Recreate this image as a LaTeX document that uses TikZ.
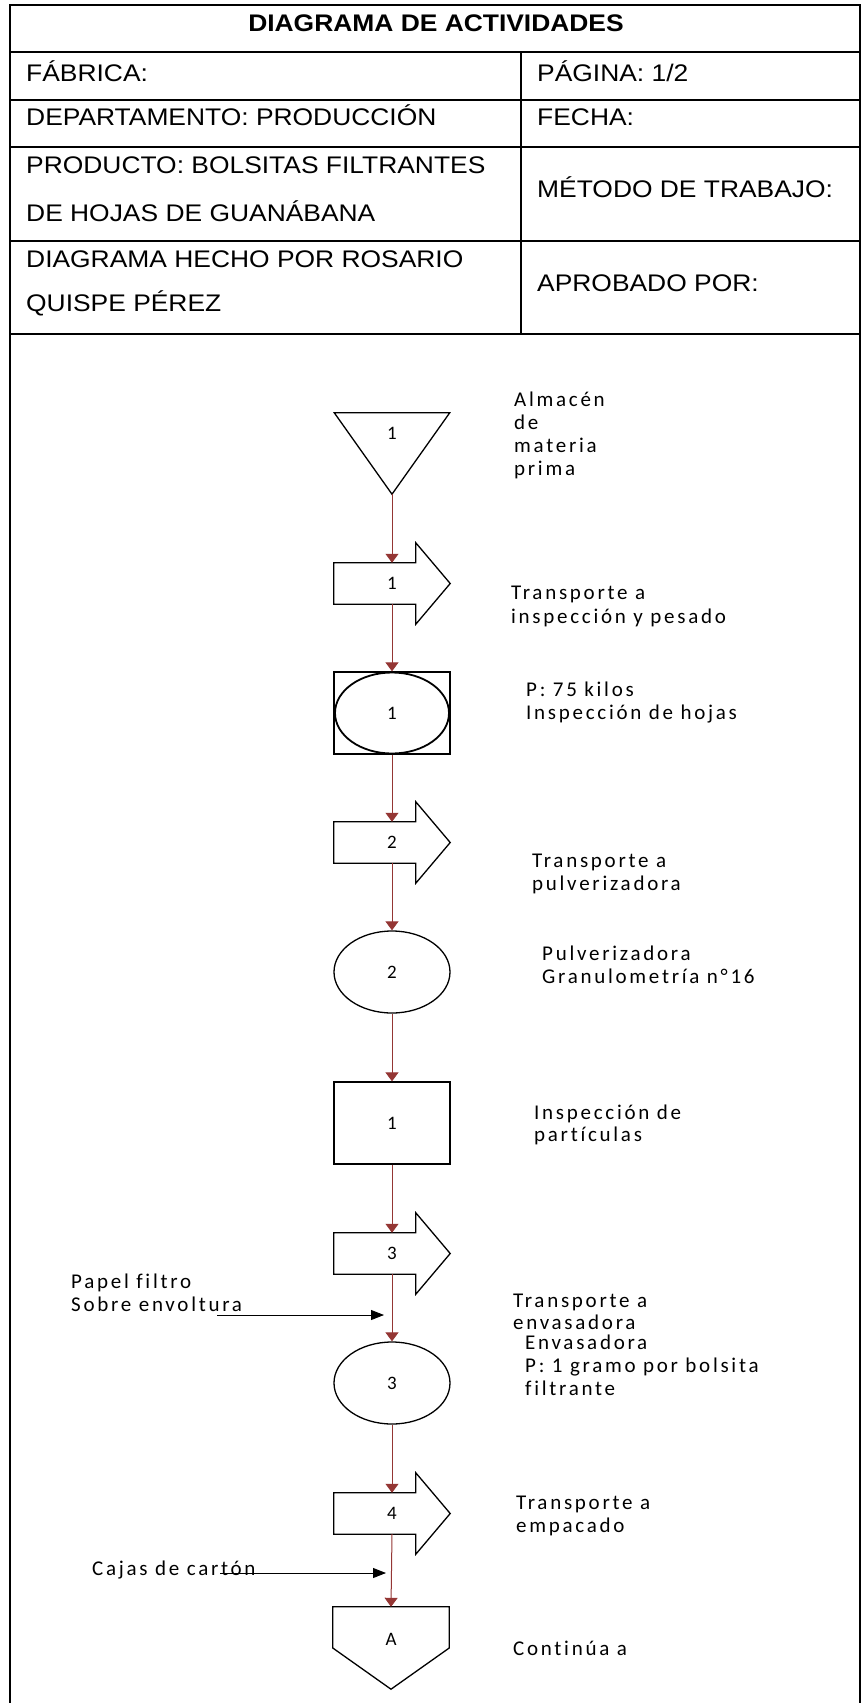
\documentclass[tikz,border=0pt]{standalone}
\usepackage{fontspec}
\setmainfont{Liberation Sans}
\newfontfamily\tabfont[FakeStretch=1.1]{Liberation Sans}
\newfontfamily\calfont[LetterSpace=13,Ligatures=NoCommon]{Carlito}
\newfontfamily\numfont{Carlito}
\usetikzlibrary{arrows.meta,calc,shapes.geometric}
\definecolor{flowred}{RGB}{148,54,52}
\newcommand\transportoutline[1]{\draw[shp] (#1.north west) -- ++(82,0) -- ++(0,-20) -- (#1.east) -- ($(#1.south west)+(82,20)$) -- ++(0,-20) -- (#1.south west) -- cycle;}
\begin{document}
\begin{tikzpicture}[x=1pt,y=-1pt,
  tabline/.style={line width=2pt,black},
  tabtxt/.style={anchor=base west,inner sep=0pt,font=\tabfont\fontsize{24}{28}\selectfont},
  lbl/.style={anchor=base west,inner sep=0pt,font=\calfont\fontsize{21}{23}\selectfont},
  shp/.style={draw=black,line width=1.3pt,line join=miter},
  num/.style={inner sep=0pt,font=\numfont\fontsize{19}{21}\selectfont},
  bx/.style={num,minimum width=116pt,minimum height=82pt},
  tr/.style={num,minimum width=116pt,minimum height=41pt},
  flow/.style={draw=flowred,line width=1pt,-{Triangle[width=13pt,length=9pt]}},
  feed/.style={draw=black,line width=0.9pt,-{Triangle[width=10pt,length=13pt]}}
]
\useasboundingbox (0,0) rectangle (861,1703);

% ---- header table ----
\draw[tabline,line join=miter] (10,1703) -- (10,5) -- (860,5) -- (860,1703);
\foreach \yy in {52,99.5,147,241,334} {\draw[tabline] (10,\yy) -- (860,\yy);}
\draw[tabline] (521,52) -- (521,334);

\node[tabtxt,anchor=base,font=\tabfont\bfseries\fontsize{24}{28}\selectfont] (title) at (436,31) {DIAGRAMA DE ACTIVIDADES};
\node[tabtxt] (fab) at (26,81) {FÁBRICA:};
\node[tabtxt] (pag) at (537,81) {PÁGINA: 1/2};
\node[tabtxt] (dep) at (26,125) {DEPARTAMENTO: PRODUCCIÓN};
\node[tabtxt] (fec) at (537,125) {FECHA:};
\node[tabtxt] (prod1) at (26,173.5) {PRODUCTO: BOLSITAS FILTRANTES};
\node[tabtxt] (prod2) at (26,221) {DE HOJAS DE GUANÁBANA};
\node[tabtxt] (met) at (537,197) {MÉTODO DE TRABAJO:};
\node[tabtxt] (hec1) at (26,267) {DIAGRAMA HECHO POR ROSARIO};
\node[tabtxt] (hec2) at (26,311) {QUISPE PÉREZ};
\node[tabtxt] (apr) at (537,291) {APROBADO POR:};

% ---- flow symbols ----
\node[minimum width=115pt,minimum height=81pt,inner sep=0pt] (s1) at (392,453.5) {};
\draw[shp] (s1.north west) -- (s1.north east) -- (s1.south) -- cycle;
\node[num] (s1l) at (392,433) {1};

\node[tr] (t1) at (392,583.5) {1};
\transportoutline{t1}

\node[bx,rectangle,draw=black,line width=1.3pt] (io1) at (392,713) {1};
\draw[line width=1.8pt] (io1.center) ellipse [x radius=57, y radius=40.5];

\node[tr] (t2) at (392,842.5) {2};
\transportoutline{t2}

\node[bx,ellipse,draw=black,line width=1.3pt] (o2) at (392,972) {2};

\node[bx,rectangle,draw=black,line width=1.3pt] (i1) at (392,1123) {1};

\node[tr] (t3) at (392,1253.5) {3};
\transportoutline{t3}

\node[bx,ellipse,draw=black,line width=1.3pt] (o3) at (392,1383) {3};

\node[tr] (t4) at (392,1513.5) {4};
\transportoutline{t4}

\node[bx] (a1) at (391,1648) {};
\draw[shp] (a1.north west) -- (a1.north east) -- (a1.east) -- (a1.south) -- (a1.west) -- cycle;
\node[num] (a1l) at (391,1639) {A};

% ---- flow connectors ----
\draw[flow] (s1.south) -- (t1.north);
\draw[flow] (t1.south) -- (io1.north);
\draw[flow] (io1.south) -- (t2.north);
\draw[flow] (t2.south) -- (o2.north);
\draw[flow] (o2.south) -- (i1.north);
\draw[flow] (i1.south) -- (t3.north);
\draw[flow] (t3.south) -- (o3.north);
\draw[flow] (o3.south) -- (t4.north);
\draw[flow] (t4.south) -- (a1.north);

% ---- inputs ----
\node[lbl] (pf1) at (71,1288) {Papel filtro};
\node[lbl] (pf2) at (71,1311) {Sobre envoltura};
\coordinate (pfa) at (217,1315);
\coordinate (pfb) at (384,1315);
\draw[feed] (pfa) -- (pfb);

\node[lbl] (cj) at (92,1575) {Cajas de cartón};
\coordinate (cja) at (220,1573);
\coordinate (cjb) at (386,1573);
\draw[feed] (cja) -- (cjb);

% ---- descriptions ----
\node[lbl] (d1a) at (514,406) {Almacén};
\node[lbl] (d1b) at (514,429) {de};
\node[lbl] (d1c) at (514,452) {materia};
\node[lbl] (d1d) at (514,475) {prima};

\node[lbl] (d2a) at (511,599) {Transporte a};
\node[lbl] (d2b) at (511,623) {inspección y pesado};

\node[lbl] (d3a) at (526,696) {P: 75 kilos};
\node[lbl] (d3b) at (526,719) {Inspección de hojas};

\node[lbl] (d4a) at (532,867) {Transporte a};
\node[lbl] (d4b) at (532,890) {pulverizadora};

\node[lbl] (d5a) at (542,960) {Pulverizadora};
\node[lbl] (d5b) at (542,983) {Granulometría n°16};

\node[lbl] (d6a) at (534,1119) {Inspección de};
\node[lbl] (d6b) at (534,1141) {partículas};

\node[lbl] (d7a) at (513,1307) {Transporte a};
\node[lbl] (d7b) at (513,1329) {envasadora};

\node[lbl] (d8a) at (525,1349) {Envasadora};
\node[lbl] (d8b) at (525,1372) {P: 1 gramo por bolsita};
\node[lbl] (d8c) at (525,1395) {filtrante};

\node[lbl] (d9a) at (516,1509) {Transporte a};
\node[lbl] (d9b) at (516,1532) {empacado};

\node[lbl] (d10) at (513,1655) {Continúa a};
\end{tikzpicture}
\end{document}
